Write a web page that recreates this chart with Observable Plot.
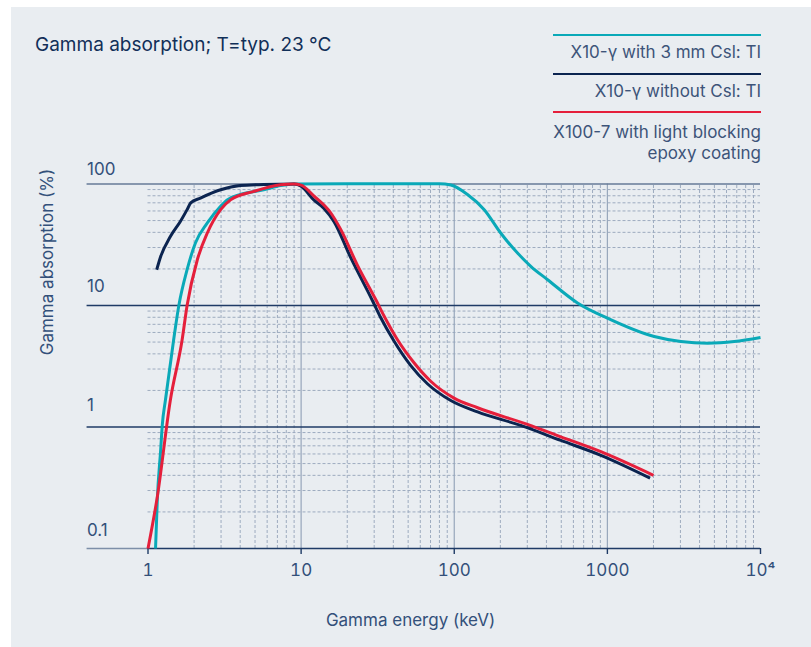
<!DOCTYPE html>
<html>
<head>
<meta charset="utf-8">
<script src="https://cdn.jsdelivr.net/npm/d3@7"></script>
<script src="https://cdn.jsdelivr.net/npm/@observablehq/plot@0.6"></script>
<style>
  html, body { margin: 0; padding: 0; background: #ffffff; }
  body { width: 811px; height: 647px; position: relative; overflow: hidden; font-family: Inter, "Noto Sans", sans-serif; }
  #panel { position: absolute; left: 11px; top: 7px; width: 800px; height: 640px; background: #e9edf1; }
  #chart { position: absolute; left: 0; top: 0; }
  #title { position: absolute; left: 35px; top: 34.6px; font-size: 19px; line-height: 19px; color: #112f58; white-space: nowrap; }
  .leg { position: absolute; left: 553px; width: 208px; }
  .leg .ln { height: 2px; width: 208px; }
  .leg .tx { position: absolute; right: 0; font-size: 17px; line-height: 21px; color: #3d5479; text-align: right; white-space: nowrap; }
</style>
</head>
<body>
<div id="panel"></div>
<div id="chart"></div>
<div id="title">Gamma absorption; T=typ. 23 °C</div>
<div id="legend"></div>
<script>
// ---- Data ----
const seriesNames = ["X10-γ with 3 mm Csl: TI", "X10-γ without Csl: TI", "X100-7 with light blocking\nepoxy coating"];
const seriesColors = ["#0aa9b8", "#0b2450", "#e51f3b"];

const cyanEnergy = [1.12, 1.15, 1.21, 1.24, 1.30, 1.47, 1.59, 1.80, 2.04, 2.44, 2.98, 3.29, 4.0, 5.7, 7.35, 9, 20, 50, 80, 95, 122, 157, 201, 259, 316, 407, 638, 1000, 2023, 3020, 4520, 6740, 10000];
const cyanAbs    = [0.1, 0.25, 0.65, 1.04, 1.67, 5.2, 10, 19.7, 32.7, 47.8, 65.5, 74, 82, 89.6, 97, 100, 100.5, 100.5, 100.5, 98, 82, 61.5, 39.5, 27, 21, 16.3, 10.5, 7.87, 5.55, 5.05, 4.9, 5.05, 5.45];

const navyEnergy = [1.14, 1.21, 1.40, 1.63, 1.80, 1.90, 2.20, 2.98, 4.0, 5.7, 9, 10, 12.1, 14.1, 16.4, 21, 29.2, 33, 40.4, 52, 66.8, 94.9, 142, 272, 497, 907, 1900];
const navyAbs    = [19.7, 25.3, 37, 49.4, 61.5, 70, 76.6, 89.6, 97, 99, 100, 96, 74, 63, 49, 25, 11, 8.0, 5.1, 3.2, 2.27, 1.65, 1.33, 1.03, 0.775, 0.585, 0.38];

const redEnergy = [1.0, 1.15, 1.40, 1.67, 1.80, 2.10, 2.44, 2.98, 3.46, 4.92, 7.35, 8.97, 10, 12.1, 15.6, 18.1, 23.3, 30.7, 34.8, 42.5, 54.6, 70.2, 99.7, 142, 301, 497, 907, 2000];
const redAbs    = [0.1, 0.266, 1.67, 5.2, 10, 23.8, 39.5, 61.5, 74, 87, 98.6, 100, 98, 80, 58, 42.5, 21.5, 11.2, 8.2, 5.25, 3.38, 2.38, 1.73, 1.44, 1.05, 0.83, 0.626, 0.40];

const xTicks = [1, 10, 100, 1000, 10000];
const xTickLabels = ["1", "10", "100", "1000", "10⁴"];
const yMajor = [0.1, 1, 10, 100];
const yTickLabels = ["0.1", "1", "10", "100"];
const yMinor = [0.2, 0.3, 0.4, 0.5, 0.6, 0.7, 0.8, 0.9, 2, 3, 4, 5, 6, 7, 8, 9, 20, 30, 40, 50, 60, 70, 80, 90];
const xMajorGrid = [10, 100, 1000];
const xMinor = [2, 3, 4, 5, 6, 7, 8, 9, 20, 30, 40, 50, 60, 70, 80, 90, 200, 300, 400, 500, 600, 700, 800, 900, 2000, 3000, 4000, 5000, 6000, 7000, 8000, 9000];
const ruleStartEnergy = 0.4; // left end of the major horizontal rules (in keV)

// ---- Build table ----
const rows = [];
[[cyanEnergy, cyanAbs], [navyEnergy, navyAbs], [redEnergy, redAbs]].forEach(([es, vs], k) => {
  es.forEach((e, i) => rows.push({series: seriesNames[k], energy: e, abs: vs[i]}));
});

const navy = "#1f3b66";
const gridGray = "#9dabbf";
const labelColor = "#33507a";

const yLabelDy = [-13, -16, -14, -9];

const chart = Plot.plot({
  width: 811,
  height: 647,
  marginLeft: 147.5,
  marginRight: 51,
  marginTop: 183.5,
  marginBottom: 99,
  style: {background: "transparent", fontFamily: "Inter, 'Noto Sans', sans-serif", fontSize: "17px", color: labelColor, overflow: "visible"},
  x: {type: "log", domain: [1, 10000]},
  y: {type: "log", domain: [0.1, 100], axis: null},
  color: {domain: seriesNames, range: seriesColors},
  marks: [
    // minor grid
    Plot.ruleY(yMinor, {x1: 1, x2: 10000, stroke: gridGray, strokeWidth: 1, strokeDasharray: "3,2"}),
    Plot.ruleX(xMinor, {y1: 0.1, y2: 100, stroke: gridGray, strokeWidth: 1, strokeDasharray: "3,2"}),
    Plot.ruleX(xMajorGrid, {y1: 0.1, y2: 100, stroke: "#97a6bb", strokeWidth: 1.2}),
    // major horizontal rules
    Plot.ruleY([1, 10], {x1: ruleStartEnergy, x2: 10000, stroke: navy, strokeWidth: 1.4}),
    Plot.ruleY([100], {x1: ruleStartEnergy, x2: 10000, stroke: "#667a97", strokeWidth: 1.6}),
    Plot.ruleY([0.1], {x1: ruleStartEnergy, x2: 1, stroke: "#7d8fa8", strokeWidth: 1.4}),
    Plot.ruleY([0.1], {x1: 1, x2: 10000, stroke: navy, strokeWidth: 1.6}),
    // x axis ticks and labels
    Plot.axisX({ticks: xTicks, tickFormat: (d) => xTickLabels[xTicks.indexOf(d)], tickSize: 6, tickPadding: 9, stroke: navy, strokeWidth: 1.4, fill: labelColor, label: null}),
    // y tick labels
    ...yMajor.map((v, i) => Plot.text([v], {x: ruleStartEnergy, y: d => d, text: () => yTickLabels[i], textAnchor: "start", lineAnchor: "bottom", dy: yLabelDy[i], fill: labelColor, fontSize: 17})),
    // axis titles
    Plot.text(["Gamma energy (keV)"], {frameAnchor: "bottom", dx: -43.75, dy: 77, fill: labelColor, fontSize: 17}),
    Plot.text(["Gamma absorption (%)"], {frameAnchor: "left", rotate: -90, dx: -100.5, dy: -11, fill: labelColor, fontSize: 17}),
    // curves
    Plot.line(rows, {x: "energy", y: "abs", z: "series", stroke: "series", strokeWidth: 3, curve: "monotone-x", strokeLinecap: "butt", clip: false})
  ]
});
document.getElementById("chart").appendChild(chart);

// ---- Legend ----
const legendLineTop = [34, 73, 110.7];
const legendTextTop = [42.3, 80.6, 121.6];
const leg = document.getElementById("legend");
seriesNames.forEach((name, i) => {
  const ln = document.createElement("div");
  ln.className = "leg";
  ln.style.top = legendLineTop[i] + "px";
  ln.innerHTML = `<div class="ln" style="background:${seriesColors[i]}"></div>`;
  leg.appendChild(ln);
  const tx = document.createElement("div");
  tx.className = "leg";
  tx.style.top = legendTextTop[i] + "px";
  const t = document.createElement("div");
  t.className = "tx";
  t.style.top = "0px";
  t.innerHTML = name.split("\n").join("<br>");
  tx.appendChild(t);
  leg.appendChild(tx);
});
</script>
</body>
</html>
